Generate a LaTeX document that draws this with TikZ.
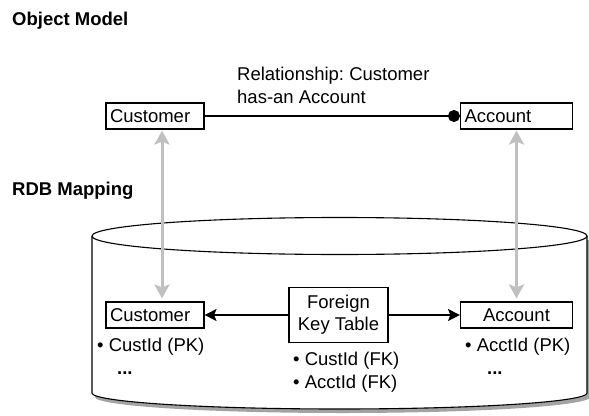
\documentclass[tikz,border=0pt]{standalone}
\usepackage{fontspec}
\setmainfont{Liberation Sans}
\usetikzlibrary{arrows.meta,positioning}
\definecolor{mapgray}{HTML}{C0C0C0}
\definecolor{dbshadow}{HTML}{A3A3A3}
\frenchspacing

\tikzset{
  entity/.style={rectangle, draw=black, line width=1.1pt, fill=white, minimum height=26pt, inner ysep=0pt, inner xsep=4pt},
  attr/.style={anchor=base west, inner sep=0pt},
  heading/.style={anchor=base west, inner sep=0pt, font=\fontsize{18.5}{22}\selectfont\bfseries},
  maparrow/.style={{Stealth[length=14pt, width=15pt, inset=3pt]}-{Stealth[length=14pt, width=15pt, inset=3pt]}, mapgray, line width=3pt, shorten <=1pt, shorten >=3pt},
  fkarrow/.style={-{Stealth[length=12pt, width=12pt, inset=2.5pt]}, line width=1.2pt},
  relline/.style={-{Circle[length=12pt]}, line width=1.1pt}
}

\begin{document}
\begin{tikzpicture}[x=1pt, y=-1pt, every node/.style={font=\fontsize{18.5}{22}\selectfont}]
\useasboundingbox (0,0) rectangle (589,415);

% Section headings
\node[heading] (objhead) at (12,25) {Object Model};
\node[heading] (rdbhead) at (12,195) {RDB Mapping};

% Database cylinder
\fill[dbshadow, shift={(3,4)}] (92,236) -- (92,393) arc[start angle=180, end angle=0, x radius=247.5, y radius=16] -- (587,236) -- cycle;
\draw[line width=1.1pt, fill=white] (92,236) -- (92,393) arc[start angle=180, end angle=0, x radius=247.5, y radius=16] -- (587,236);
\draw[line width=1.1pt, fill=white] (339.5,236) ellipse [x radius=247.5, y radius=18.5];

% Object model
\node[entity, text width=90pt, align=left] (custobj) at (155,116) {Customer};
\node[entity, text width=104pt, align=left] (acctobj) at (516.5,116) {Account};
\node[inner sep=0pt, anchor=north west, align=left, font=\fontsize{18.5}{23}\selectfont] (reltext) at (237,66.5) {Relationship: Customer\\has-an Account};

% Tables in the database
\node[entity, text width=90pt, align=left] (custtbl) at (155,315) {Customer};
\node[entity, text width=104pt, align=center] (accttbl) at (516.5,315) {Account};
\node[entity, minimum width=99pt, minimum height=55pt, align=center] (fktbl) at (338.5,315) {Foreign\\Key Table};

% Columns
\node[attr] (custpk) at (97,351.5) {• CustId (PK)};
\node[attr] (custmore) at (117,374) {\bfseries ...};
\node[attr] (fkcust) at (293,365) {• CustId (FK)};
\node[attr] (fkacct) at (293,388) {• AcctId (FK)};
\node[attr] (acctpk) at (465,351.5) {• AcctId (PK)};
\node[attr] (acctmore) at (487,374) {\bfseries ...};

% Connectors
\draw[relline] (custobj) -- (acctobj);
\draw[maparrow] ([xshift=7pt]custobj.south) -- ([xshift=7pt]custtbl.north);
\draw[maparrow] (acctobj) -- (accttbl);
\draw[fkarrow] (fktbl) -- (custtbl);
\draw[fkarrow] (fktbl) -- (accttbl);

\end{tikzpicture}
\end{document}
